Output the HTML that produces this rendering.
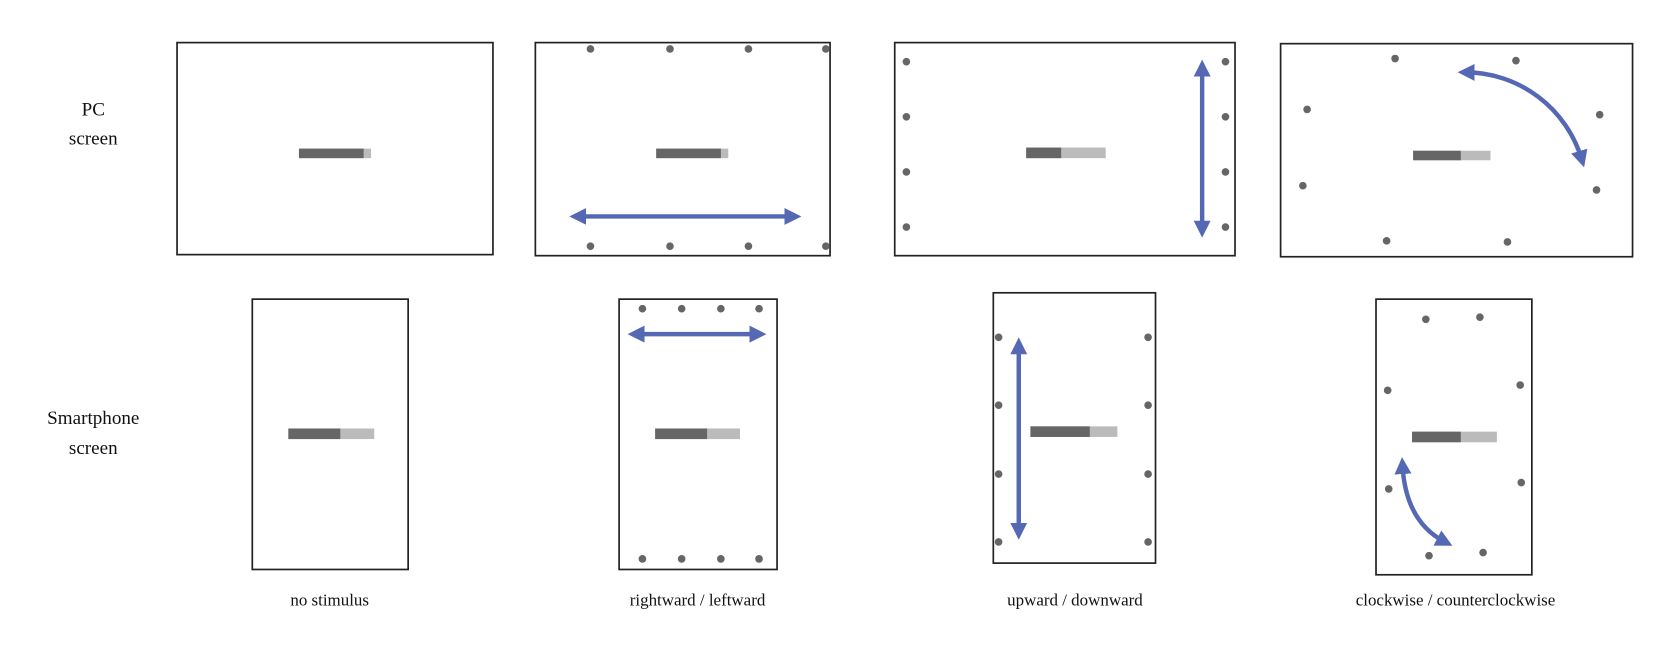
<!DOCTYPE html>
<html><head><meta charset="utf-8"><style>
html,body{margin:0;padding:0;background:#fff;}
svg{display:block;}
text{font-family:"Liberation Serif",serif;fill:#111;}
</style></head><body>
<svg width="1658" height="646" viewBox="0 0 1564 609" xmlns="http://www.w3.org/2000/svg">
<defs>
<marker id="h" viewBox="0 0 10 10" refX="5" refY="5" markerWidth="3.8" markerHeight="3.8" orient="auto-start-reverse" markerUnits="strokeWidth">
<path d="M0,0 L10,5 L0,10 z" fill="#5468b4"/></marker>
</defs>
<g fill="#fff" stroke="#222" stroke-width="1.6">
<rect x="167" y="40" width="298" height="200"/>
<rect x="505" y="40" width="278" height="201"/>
<rect x="844" y="40" width="321" height="201"/>
<rect x="1208" y="41" width="332" height="201"/>
<rect x="238" y="282" width="147" height="255"/>
<rect x="584" y="282" width="149" height="255"/>
<rect x="937" y="276" width="153" height="255"/>
<rect x="1298" y="282" width="147" height="260"/>
</g>
<g>
<rect x="282" y="140" width="68" height="9" fill="#bbb"/><rect x="282" y="140" width="61" height="9" fill="#666"/>
<rect x="619" y="140" width="68" height="9" fill="#bbb"/><rect x="619" y="140" width="61" height="9" fill="#666"/>
<rect x="968" y="139" width="75" height="10" fill="#bbb"/><rect x="968" y="139" width="33" height="10" fill="#666"/>
<rect x="1333" y="142" width="73" height="9" fill="#bbb"/><rect x="1333" y="142" width="45" height="9" fill="#666"/>
<rect x="272" y="404" width="81" height="10" fill="#bbb"/><rect x="272" y="404" width="49" height="10" fill="#666"/>
<rect x="618" y="404" width="80" height="10" fill="#bbb"/><rect x="618" y="404" width="49" height="10" fill="#666"/>
<rect x="972" y="402" width="82" height="10" fill="#bbb"/><rect x="972" y="402" width="56" height="10" fill="#666"/>
<rect x="1332" y="407" width="80" height="10" fill="#bbb"/><rect x="1332" y="407" width="46" height="10" fill="#666"/>
</g>
<g fill="#666">
<circle cx="557" cy="46" r="3.6"/><circle cx="632" cy="46" r="3.6"/><circle cx="706" cy="46" r="3.6"/><circle cx="779" cy="46" r="3.6"/>
<circle cx="557" cy="232" r="3.6"/><circle cx="632" cy="232" r="3.6"/><circle cx="706" cy="232" r="3.6"/><circle cx="779" cy="232" r="3.6"/>
<circle cx="855" cy="58" r="3.6"/><circle cx="855" cy="110" r="3.6"/><circle cx="855" cy="162" r="3.6"/><circle cx="855" cy="214" r="3.6"/>
<circle cx="1156" cy="58" r="3.6"/><circle cx="1156" cy="110" r="3.6"/><circle cx="1156" cy="162" r="3.6"/><circle cx="1156" cy="214" r="3.6"/>
<circle cx="1316" cy="55" r="3.6"/><circle cx="1430" cy="57" r="3.6"/><circle cx="1233" cy="103" r="3.6"/><circle cx="1509" cy="108" r="3.6"/>
<circle cx="1229" cy="175" r="3.6"/><circle cx="1506" cy="179" r="3.6"/><circle cx="1308" cy="227" r="3.6"/><circle cx="1422" cy="228" r="3.6"/>
<circle cx="606" cy="291" r="3.6"/><circle cx="643" cy="291" r="3.6"/><circle cx="680" cy="291" r="3.6"/><circle cx="716" cy="291" r="3.6"/>
<circle cx="606" cy="527" r="3.6"/><circle cx="643" cy="527" r="3.6"/><circle cx="680" cy="527" r="3.6"/><circle cx="716" cy="527" r="3.6"/>
<circle cx="942" cy="318" r="3.6"/><circle cx="942" cy="382" r="3.6"/><circle cx="942" cy="447" r="3.6"/><circle cx="942" cy="511" r="3.6"/>
<circle cx="1083" cy="318" r="3.6"/><circle cx="1083" cy="382" r="3.6"/><circle cx="1083" cy="447" r="3.6"/><circle cx="1083" cy="511" r="3.6"/>
<circle cx="1345" cy="301" r="3.6"/><circle cx="1396" cy="299" r="3.6"/><circle cx="1309" cy="368" r="3.6"/><circle cx="1434" cy="363" r="3.6"/>
<circle cx="1310" cy="461" r="3.6"/><circle cx="1435" cy="455" r="3.6"/><circle cx="1348" cy="524" r="3.6"/><circle cx="1399" cy="521" r="3.6"/>
</g>
<g stroke="#5468b4" stroke-width="4.2" fill="none" marker-start="url(#h)" marker-end="url(#h)">
<path d="M545,204 L748,204"/>
<path d="M1134,64 L1134,216"/>
<path d="M1383,68 A115,115 0 0 1 1492,150"/>
<path d="M600,315 L715,315"/>
<path d="M961,326 L961,501"/>
<path d="M1323,439 Q1326,492 1363,511"/>
</g>
<g font-size="18" text-anchor="middle">
<text x="88" y="109">PC</text><text x="88" y="136">screen</text>
<text x="88" y="400">Smartphone</text><text x="88" y="428">screen</text>
</g>
<g font-size="16" text-anchor="middle">
<text x="311" y="571">no stimulus</text>
<text x="658" y="571">rightward / leftward</text>
<text x="1014" y="571">upward / downward</text>
<text x="1373" y="571">clockwise / counterclockwise</text>
</g>
</svg>
</body></html>
